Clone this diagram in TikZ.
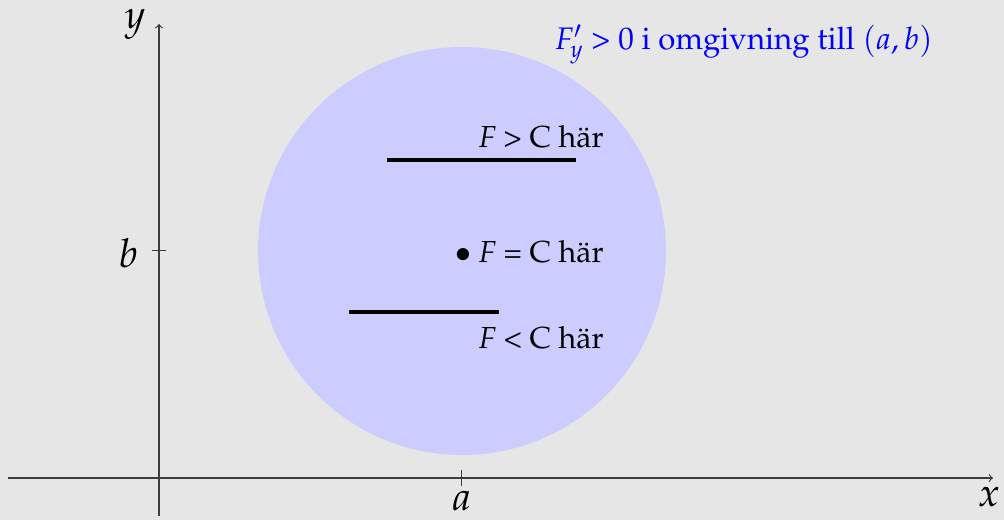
\documentclass[tikz,border=0pt]{standalone}
\usepackage[T1]{fontenc}
\usepackage{mathpazo}
\definecolor{bggray}{RGB}{230,230,230}
\definecolor{disk}{RGB}{204,204,255}
\definecolor{axisgray}{RGB}{60,60,60}
\newcommand{\bigtxt}{\fontsize{16}{19}\selectfont}
\newcommand{\condtxt}{\fontsize{16.4}{19}\selectfont}
\newcommand{\axtxt}{\fontsize{21}{25}\selectfont}
\begin{document}
\begin{tikzpicture}[x=0.5263pt,y=-0.5263pt,
  axis/.style={draw=axisgray,line width=0.6pt},
  tickmark/.style={draw=axisgray,line width=0.5pt},
  level/.style={draw=black,line width=1.8pt},
  axlabel/.style={inner sep=0pt,font=\axtxt},
  txt/.style={inner sep=0pt,anchor=east,font=\bigtxt}]
\fill[bggray] (0,0) rectangle (1004,520);
\useasboundingbox (0,0) rectangle (1004,520);
% disk
\fill[disk] (462,251) circle[radius=204];
% axes
\coordinate (xs) at (8,478);
\coordinate (xe) at (993,478);
\coordinate (ys) at (159,516);
\coordinate (ye) at (159,24);
\draw[axis,->] (xs) -- (xe);
\draw[axis,->] (ys) -- (ye);
% ticks
\coordinate (bt1) at (152,250); \coordinate (bt2) at (166,250);
\coordinate (at1) at (461,470); \coordinate (at2) at (461,486);
\draw[tickmark] (bt1) -- (bt2);
\draw[tickmark] (at1) -- (at2);
\node[axlabel] (ylab) at (135,24) {$y$};
\node[axlabel] (xlab) at (989,497) {$x$};
\node[axlabel] (blab) at (129,253) {$b$};
\node[axlabel] (alab) at (462,501) {$a$};
% level lines
\coordinate (u1) at (387,160); \coordinate (u2) at (576,160);
\coordinate (l1) at (349,312); \coordinate (l2) at (499,312);
\draw[level] (u1) -- (u2);
\draw[level] (l1) -- (l2);
% labels
\node[txt] (gt) at (604,137) {\textit{F} > C h\"ar};
\node[txt] (eq) at (604,252) {$\bullet$ \textit{F} = C h\"ar};
\node[txt] (lt) at (604,338) {\textit{F} < C h\"ar};
\node[inner sep=0pt,text=blue,anchor=east,font=\condtxt] (cond) at (933,44) {$F'_y$ > 0 i omgivning till $(a,b)$};
\end{tikzpicture}
\end{document}
